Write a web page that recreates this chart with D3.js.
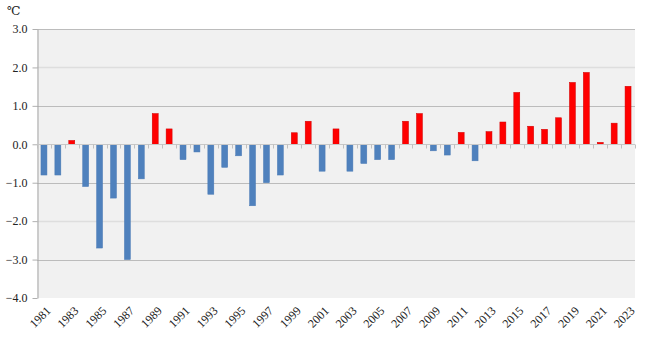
<!DOCTYPE html>
<html><head><meta charset="utf-8">
<script src="https://cdn.jsdelivr.net/npm/d3@7/dist/d3.min.js"></script>
<style>body{margin:0;background:#fff}svg{display:block}
svg text{font-family:"Liberation Serif","Times New Roman","DejaVu Serif",serif;fill:#222}</style>
</head><body>
<svg id="c" width="649" height="348"></svg>
<script>
const years = d3.range(1981, 2024);
const values = [-0.8,-0.8,0.1,-1.1,-2.7,-1.4,-3.0,-0.9,0.8,0.4,
  -0.4,-0.2,-1.3,-0.6,-0.3,-1.6,-1.0,-0.8,0.3,0.6,
  -0.7,0.4,-0.7,-0.5,-0.4,-0.4,0.6,0.8,-0.17,-0.28,
  0.31,-0.43,0.33,0.58,1.35,0.47,0.39,0.69,1.61,1.87,
  0.05,0.55,1.51];
const yTicks = [3,2,1,0,-1,-2,-3,-4];
const unit = "℃";

const svg = d3.select("#c");
const L = 37, R = 635, T = 29, B = 298;
const x = d3.scaleBand().domain(years).range([L, R]).paddingInner(0.57).paddingOuter(0.285);
const y = d3.scaleLinear().domain([-4, 3]).range([B, T]);

svg.append("rect").attr("x", L).attr("y", T).attr("width", R - L).attr("height", B - T).attr("fill", "#f1f1f1");

// gridlines
svg.append("g").selectAll("line").data(yTicks.filter(d => d !== 0 && d !== -4)).join("line")
  .attr("x1", L).attr("x2", R).attr("y1", d => Math.round(y(d)) + 0.5).attr("y2", d => Math.round(y(d)) + 0.5)
  .attr("stroke", d => Math.abs(d) % 2 === 1 ? "#bcbcbc" : "#dedede").attr("stroke-width", d => Math.abs(d) % 2 === 1 ? 1 : 1.5);

// y axis
const yAxis = d3.axisLeft(y).tickValues(yTicks).tickFormat(d3.format(".1f")).tickSizeInner(5).tickSizeOuter(0).tickPadding(5);
const gy = svg.append("g").attr("transform", `translate(${L + 0.5},0)`).call(yAxis);
gy.attr("font-family", null).attr("font-size", null);
gy.select(".domain").attr("stroke", "#a6a6a6");
gy.selectAll(".tick line").attr("stroke", "#b0b0b0");
gy.selectAll("text").style("font-size", "12px");

// bars
svg.append("g").selectAll("rect").data(years).join("rect")
  .attr("x", d => x(d))
  .attr("width", x.bandwidth())
  .attr("y", (d, i) => y(Math.max(0, values[i])))
  .attr("height", (d, i) => Math.abs(y(values[i]) - y(0)))
  .attr("fill", (d, i) => values[i] >= 0 ? "#ff0000" : "#4f81bd")
  .attr("stroke", (d, i) => values[i] >= 0 ? "#d00000" : "#4a7ab5")
  .attr("stroke-width", 0.5);

// zero axis with category ticks
const x0 = Math.round(y(0)) + 0.5;
svg.append("line").attr("x1", L).attr("x2", R).attr("y1", x0).attr("y2", x0).attr("stroke", "#c8c8c8");
const step = x.step();
svg.append("g").selectAll("line").data(d3.range(years.length + 1)).join("line")
  .attr("x1", i => Math.round(L + i * step) + 0.5).attr("x2", i => Math.round(L + i * step) + 0.5)
  .attr("y1", x0).attr("y2", x0 + 4).attr("stroke", "#c0c0c0");

// x labels
svg.append("g").selectAll("text").data(years.filter((d, i) => i % 2 === 0)).join("text")
  .attr("transform", d => `translate(${x(d) + x.bandwidth() / 2 + 5},${B + 11}) rotate(-45)`)
  .attr("text-anchor", "end").attr("dy", "0.3em")
  .style("font-size", "12px")
  .text(d => d);

svg.append("text").attr("x", 7).attr("y", 15).style("font-size", "12px").text(unit);
</script>
</body></html>
